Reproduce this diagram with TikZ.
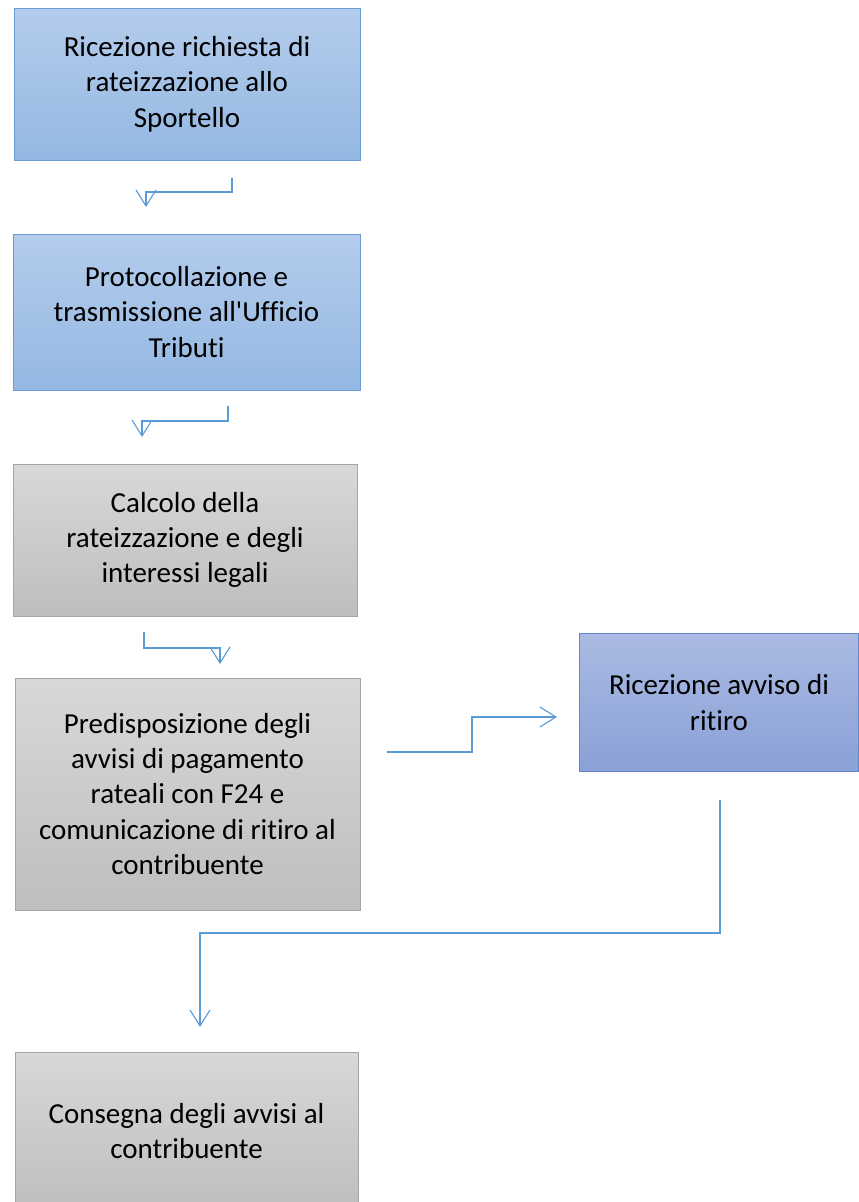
\documentclass[tikz,border=0pt]{standalone}
\usepackage{fontspec}
\setmainfont{Carlito}[Ligatures={TeXOff,NoCommon}]
\usetikzlibrary{arrows.meta}
\definecolor{blueT}{RGB}{180,204,236}
\definecolor{blueB}{RGB}{148,184,226}
\definecolor{blueD}{RGB}{108,155,212}
\definecolor{grayT}{RGB}{216,216,216}
\definecolor{grayB}{RGB}{190,190,190}
\definecolor{grayD}{RGB}{165,165,165}
\definecolor{purT}{RGB}{170,186,226}
\definecolor{purB}{RGB}{138,161,215}
\definecolor{purD}{RGB}{98,132,202}
\definecolor{conn}{RGB}{91,155,213}
\tikzset{
  box/.style={rectangle, draw, line width=1pt, align=center, inner sep=0pt,
    font=\fontsize{29}{35.3}\selectfont, text=black},
  bluebox/.style={box, draw=blueD, top color=blueT, bottom color=blueB},
  graybox/.style={box, draw=grayD, top color=grayT, bottom color=grayB},
  purbox/.style={box, draw=purD, top color=purT, bottom color=purB},
  conline/.style={draw=conn, line width=1.1pt, -{Straight Barb[length=16pt,width=20pt,line width=1.1pt]}}
}
\begin{document}
\begin{tikzpicture}[x=1pt,y=-1pt]
\useasboundingbox (0,0) rectangle (859,1202);
\node[bluebox, minimum width=346pt, minimum height=152pt] (b1) at (187,84)
  {Ricezione richiesta di\\rateizzazione allo\\Sportello};
\node[bluebox, minimum width=347pt, minimum height=156pt] (b2) at (186.5,312)
  {Protocollazione e\\trasmissione all'Ufficio\\Tributi};
\node[graybox, minimum width=344pt, minimum height=152pt] (b3) at (185,540)
  {Calcolo della\\rateizzazione e degli\\interessi legali};
\node[graybox, minimum width=345pt, minimum height=232pt] (b4) at (187.5,794)
  {Predisposizione degli\\avvisi di pagamento\\rateali con F24 e\\comunicazione di ritiro al\\contribuente};
\node[purbox, minimum width=279pt, minimum height=138pt] (b5) at (719,702.5)
  {Ricezione avviso di\\ritiro};
\node[graybox, minimum width=343pt, minimum height=158pt] (b6) at (186.5,1131)
  {Consegna degli avvisi al\\contribuente};
% connector coordinates
\coordinate (a1s) at (232,178);
\coordinate (a1e) at (146,207);
\coordinate (a2s) at (228,406);
\coordinate (a2e) at (142,437);
\coordinate (a3s) at (144,632);
\coordinate (a3e) at (220,664);
\coordinate (a4s) at (387,752);
\coordinate (a4e) at (557,717);
\coordinate (a5s) at (720,800);
\coordinate (a5e) at (200,1027);
\draw[conline] (a1s) -- (232,192) -| (a1e);
\draw[conline] (a2s) -- (228,421) -| (a2e);
\draw[conline] (a3s) -- (144,648) -| (a3e);
\draw[conline] (a4s) -- (472,752) -- (472,717) -- (a4e);
\draw[conline] (a5s) -- (720,933) -| (a5e);
\end{tikzpicture}
\end{document}
